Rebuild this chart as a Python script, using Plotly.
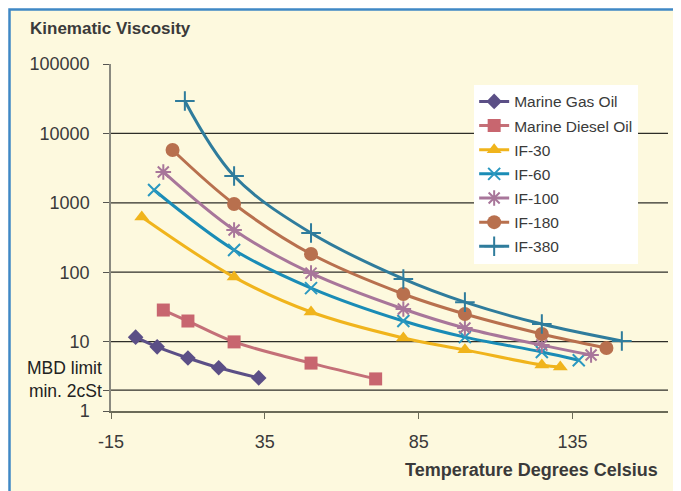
import plotly.graph_objects as go

# ---- data ----
series_names = ["Marine Gas Oil", "Marine Diesel Oil", "IF-30", "IF-60", "IF-100", "IF-180", "IF-380"]

mgo_temp = [-7, 0, 10, 20, 33]
mgo_visc = [11.6, 8.4, 5.8, 4.2, 3.0]

mdo_temp = [2, 10, 25, 50, 71]
mdo_visc = [28.5, 19.8, 9.9, 4.9, 2.9]

if30_temp = [-5, 25, 50, 80, 100, 125, 131]
if30_visc = [624, 85, 26.7, 11.3, 7.6, 4.6, 4.3]

if60_temp = [-1, 25, 50, 80, 100, 125, 137]
if60_visc = [1528, 209, 59, 19.8, 11.6, 7.1, 5.4]

if100_temp = [2, 25, 50, 80, 100, 125, 141]
if100_visc = [2780, 405, 97, 29.5, 15.7, 8.9, 6.4]

if180_temp = [5, 25, 50, 80, 100, 125, 146]
if180_visc = [5770, 961, 183, 48.5, 25, 12.9, 8.1]

if380_temp = [9, 25, 50, 80, 100, 125, 151]
if380_visc = [29300, 2430, 367, 80, 37, 17.9, 10.2]

y_tick_vals = [1, 2, 10, 100, 1000, 10000, 100000]
y_tick_text = ["1", "", "10", "100", "1000", "10000", "100000"]
grid_levels = [2, 10, 100, 1000, 10000]
x_tick_vals = [-15, 35, 85, 135]
x_tick_text = ["-15", "35", "85", "135"]

temps = [mgo_temp, mdo_temp, if30_temp, if60_temp, if100_temp, if180_temp, if380_temp]
viscs = [mgo_visc, mdo_visc, if30_visc, if60_visc, if100_visc, if180_visc, if380_visc]

line_colors = ["#5B4F86", "#C47078", "#F0B41C", "#1A8CB6", "#A8769A", "#B8704E", "#2F7C9C"]
marker_colors = ["#5B4F86", "#C8666F", "#F0B41C", "#2A98C0", "#A8769A", "#B8704E", "#2F7C9C"]
symbols = ["diamond", "square", "triangle-up", "x-thin", "asterisk", "circle", "cross-thin"]
sizes = [12, 13, 13, 12, 13, 14, 14]

BG = "#FDF9DE"
TXT = "#3A3A3A"

# page body has an 8px margin: figure is sized/positioned to compensate
W, H = 673, 483
ML, MR, MT, MB = 103, 13, 56, 80
PW, PH = W - ML - MR, H - MT - MB

fig = go.Figure()
for i, name in enumerate(series_names):
    thin = symbols[i] in ("x-thin", "asterisk", "cross-thin")
    fig.add_trace(go.Scatter(
        x=temps[i], y=viscs[i], name=name, mode="lines+markers",
        legendgroup=name,
        line=dict(color=line_colors[i], width=3, shape="spline", smoothing=1.0),
        marker=dict(symbol=symbols[i], size=sizes[i], color=marker_colors[i],
                    line=dict(color=marker_colors[i], width=2 if thin else 0)),
    ))

shapes = [dict(type="rect", xref="paper", yref="paper",
               x0=(1.5 - ML) / PW, x1=1.3, y0=-0.4, y1=(MT + PH - 1.5) / PH,
               fillcolor=BG, line=dict(color="#3F88C5", width=2.5), layer="below")]
for g in grid_levels:
    shapes.append(dict(type="line", xref="paper", yref="y", x0=0, x1=1, y0=g, y1=g,
                       line=dict(color="#2E2E28", width=1.3), layer="below"))

fig.update_layout(
    width=W, height=H,
    paper_bgcolor="white", plot_bgcolor="rgba(0,0,0,0)",
    margin=dict(l=ML, r=MR, t=MT, b=MB),
    font=dict(family="Liberation Sans, Arial, sans-serif", color=TXT),
    title=dict(text="<b>Kinematic Viscosity</b>", xref="container", yref="container",
               x=22 / W, y=1 - 20 / H, xanchor="left", yanchor="middle",
               font=dict(size=17, color=TXT)),
    shapes=shapes,
    showlegend=True,
    legend=dict(x=0.652, y=0.94, xanchor="left", yanchor="top",
                bgcolor="#FFFFFF", borderwidth=0, font=dict(size=15.5, color=TXT),
                tracegroupgap=1, itemwidth=30),
    xaxis=dict(range=[-15, 166], tickvals=x_tick_vals, ticktext=x_tick_text,
               showgrid=False, zeroline=False,
               showline=True, linecolor="#6B6B58", linewidth=2,
               ticks="outside", ticklen=6, tickcolor="#6B6B58", tickwidth=1,
               tickfont=dict(size=18, color=TXT), ticklabelstandoff=7),
    yaxis=dict(type="log", range=[0, 5], tickvals=y_tick_vals, ticktext=y_tick_text,
               showgrid=False, zeroline=False, showline=True, linecolor="#8A8A80",
               linewidth=1.5, ticks="outside", ticklen=6, tickcolor="#555550",
               tickfont=dict(size=18, color=TXT), ticklabelstandoff=10),
    annotations=[
        dict(text="<b>Temperature Degrees Celsius</b>", xref="paper", yref="paper",
             x=(660 - 111) / 557, y=(411 - 470) / 347, xanchor="right", yanchor="middle",
             showarrow=False, font=dict(size=18, color=TXT)),
        dict(text="MBD limit<br>min. 2cSt", xref="paper", yref="paper", x=(104 - 111) / 557,
             y=(411 - 379.5) / 347, xanchor="right", yanchor="middle", showarrow=False,
             align="right", font=dict(size=17.5, color="#222222")),
    ],
)

fig.write_html("out.html")
